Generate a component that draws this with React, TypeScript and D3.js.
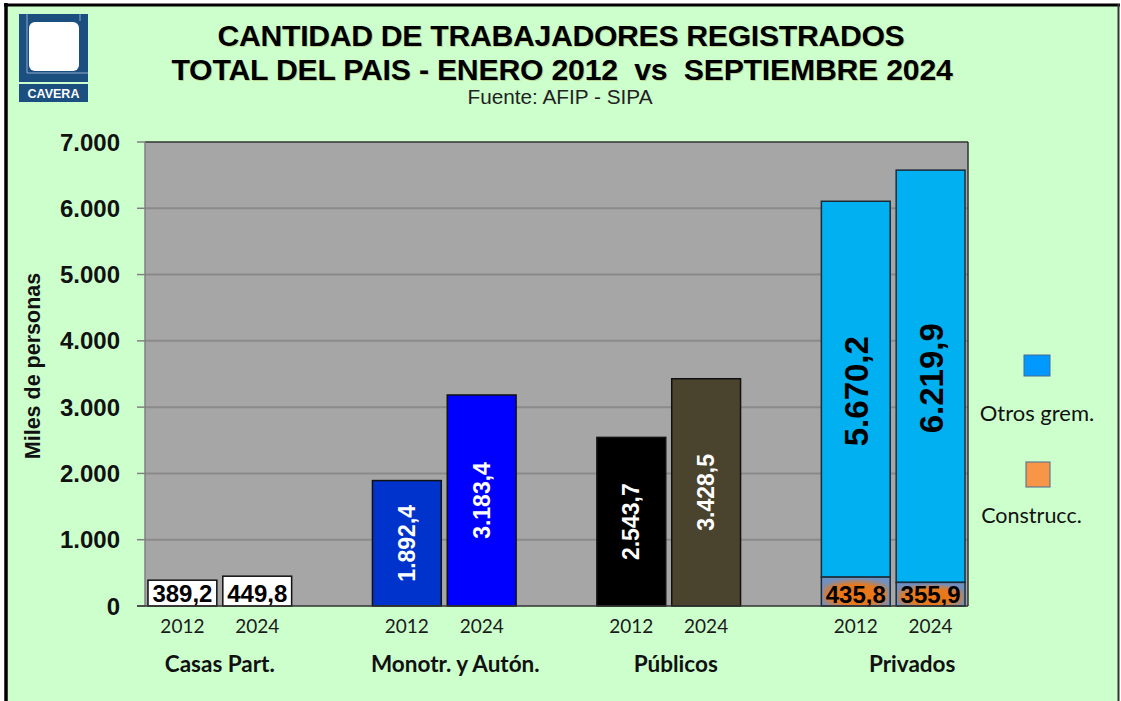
import React from 'react';
import * as d3 from 'd3';

// values in thousands of persons
const categories = ['Casas Part.', 'Monotr. y Autón.', 'Públicos', 'Privados'];
const years = ['2012', '2024'];
const casasPart = [389.2, 449.8];
const monotributo = [1892.4, 3183.4];
const publicos = [2543.7, 3428.5];
const privadosConstrucc = [435.8, 355.9];
const privadosOtros = [5670.2, 6219.9];
const yTicks = [0, 1000, 2000, 3000, 4000, 5000, 6000, 7000];
const legendLabels = ['Otros grem.', 'Construcc.'];

const W = 1121;
const H = 701;
const plot = { left: 145, right: 968, top: 142, bottom: 606 };

const locale = d3.formatLocale({ decimal: ',', thousands: '.', grouping: [3], currency: ['$', ''] });
const fmt1 = locale.format(',.1f');
const fmt0 = locale.format(',.0f');

const ARIAL = '"Liberation Sans", Arial, sans-serif';
const CALIBRI = 'Lato, "Open Sans", sans-serif';

export default function App() {
  // 11 slots: two bars per category with an empty slot between groups
  const slots: string[] = [];
  categories.forEach((c, i) => {
    years.forEach(y => slots.push(`${c}|${y}`));
    if (i < categories.length - 1) slots.push(`gap${i}`);
  });

  const x = d3.scaleBand<string>()
    .domain(slots)
    .range([plot.left, plot.right])
    .paddingInner(0.08)
    .paddingOuter(0.04);

  const y = d3.scaleLinear().domain([0, 7000]).range([plot.bottom, plot.top]);
  const bw = x.bandwidth();

  const simple = [
    { cat: categories[0], vals: casasPart, fills: ['#FFFFFF', '#FFFFFF'], label: 'box' },
    { cat: categories[1], vals: monotributo, fills: ['#0033CC', '#0000FF'], label: 'white' },
    { cat: categories[2], vals: publicos, fills: ['#000000', '#4A432E'], label: 'white' },
  ];

  const labelShift = [0, 11, 7, 19];
  const titleShadow = { textShadow: '1px 1px 0.5px rgba(140,110,0,0.3)' };

  return (
    <svg width={W} height={H} style={{ position: 'absolute', left: 0, top: 0 }}>
      <defs>
        <radialGradient id="glow" cx="50%" cy="60%" r="65%">
          <stop offset="0%" stopColor="#EE7410" />
          <stop offset="60%" stopColor="#E47A22" />
          <stop offset="100%" stopColor="#7090C0" />
        </radialGradient>
      </defs>
      <rect x={0} y={0} width={W} height={H} fill="#FFFFFF" />
      <rect x={6} y={5} width={1112} height={H} fill="#CCFFCC" />
      <line x1={6} y1={3} x2={6} y2={H} stroke="#000" strokeWidth={3.5} />
      <line x1={4} y1={5} x2={1120} y2={5} stroke="#000" strokeWidth={3} />
      <line x1={1118.5} y1={4} x2={1118.5} y2={H} stroke="#333" strokeWidth={2} />

      {/* logo */}
      <g>
        <rect x={19} y={14} width={69} height={68} fill="#1B4F80" />
        <rect x={29} y={22} width={50} height={49} rx={6} fill="#FFFFFF" />
        <line x1={27} y1={14} x2={27} y2={73} stroke="#8FAACB" strokeWidth={1} />
        <line x1={27} y1={73} x2={88} y2={73} stroke="#8FAACB" strokeWidth={1} />
        <line x1={80} y1={14} x2={80} y2={21} stroke="#8FAACB" strokeWidth={1} />
        <rect x={19} y={84} width={69} height={18} fill="#1B4F80" />
        <text x={53.5} y={98} textAnchor="middle" fill="#FFFFFF" fontFamily={ARIAL}
          fontWeight="bold" fontSize={12.5}>CAVERA</text>
      </g>

      {/* titles */}
      <g fontFamily={ARIAL} fontWeight="bold" fill="#000" textAnchor="middle">
        <text x={561} y={46} fontSize={30.2} letterSpacing={-0.3} style={titleShadow}>
          CANTIDAD DE TRABAJADORES REGISTRADOS
        </text>
        <text x={562} y={80} fontSize={30.2} letterSpacing={-0.2} style={titleShadow}>
          TOTAL DEL PAIS - ENERO 2012{'\u00A0'} vs{'\u00A0'} SEPTIEMBRE 2024
        </text>
      </g>
      <text x={560} y={104} textAnchor="middle" fontFamily={ARIAL} fontSize={20.5} fill="#222"
        textLength={185} lengthAdjust="spacingAndGlyphs">
        Fuente: AFIP - SIPA
      </text>

      {/* plot area */}
      <rect x={plot.left} y={plot.top} width={plot.right - plot.left} height={plot.bottom - plot.top}
        fill="#A6A6A6" />
      {yTicks.map(t => (
        <g key={t}>
          {t > 0 && (
            <line x1={plot.left} x2={plot.right} y1={y(t)} y2={y(t)}
              stroke={t === 7000 ? '#333' : '#8A8A8A'} strokeWidth={t === 7000 ? 1.5 : 2} />
          )}
          <line x1={plot.left - 8} x2={plot.left} y1={y(t)} y2={y(t)} stroke="#808080" strokeWidth={1.5} />
          <text x={120} y={y(t) + 8.5} textAnchor="end" fontFamily={ARIAL} fontWeight="bold"
            fontSize={24} fill="#111">{fmt0(t)}</text>
        </g>
      ))}
      <line x1={plot.left} x2={plot.left} y1={plot.top} y2={plot.bottom} stroke="#808080" strokeWidth={1.5} />
      <line x1={plot.right} x2={plot.right} y1={plot.top} y2={plot.bottom} stroke="#333" strokeWidth={1.5} />

      <text transform={`translate(40,${(plot.top + plot.bottom) / 2 - 8}) rotate(-90)`} textAnchor="middle"
        fontFamily={ARIAL} fontWeight="bold" fontSize={21.5} fill="#111">Miles de personas</text>

      {/* simple bars */}
      {simple.map(s => s.vals.map((v, i) => {
        const bx = x(`${s.cat}|${years[i]}`)!;
        const top = y(v);
        const cx = bx + bw / 2;
        const cy = (top + plot.bottom) / 2;
        return (
          <g key={`${s.cat}${i}`}>
            <rect x={bx} y={top} width={bw} height={plot.bottom - top} fill={s.fills[i]}
              stroke="#111" strokeWidth={1.5} />
            {s.label === 'box' ? (
              <text x={cx} y={plot.bottom - 4} textAnchor="middle" fontFamily={ARIAL} fontWeight="bold"
                fontSize={24} fill="#000">{fmt1(v)}</text>
            ) : (
              <text transform={`translate(${cx + 8},${cy}) rotate(-90)`} textAnchor="middle"
                fontFamily={ARIAL} fontWeight="bold" fontSize={23} fill="#FFFFFF">{fmt1(v)}</text>
            )}
          </g>
        );
      }))}

      {/* stacked privados */}
      {years.map((yr, i) => {
        const bx = x(`${categories[3]}|${yr}`)!;
        const c = privadosConstrucc[i];
        const o = privadosOtros[i];
        const cTop = y(c);
        const oTop = y(c + o);
        const cx = bx + bw / 2;
        return (
          <g key={yr}>
            <rect x={bx} y={oTop} width={bw} height={cTop - oTop} fill="#00B0F0" stroke="#1B2B38" strokeWidth={1.5} />
            <rect x={bx} y={cTop} width={bw} height={plot.bottom - cTop} fill="#7090C0" stroke="#1B2B38" strokeWidth={1.5} />
            <rect x={bx + 2} y={cTop + 2} width={bw - 4} height={plot.bottom - cTop - 3} fill="url(#glow)" />
            <text transform={`translate(${cx + 12},${(oTop + cTop) / 2 + 2}) rotate(-90)`} textAnchor="middle"
              fontFamily={ARIAL} fontWeight="bold" fontSize={33} fill="#000">{fmt1(o)}</text>
            <text x={cx} y={plot.bottom - 3} textAnchor="middle" fontFamily={ARIAL} fontWeight="bold"
              fontSize={24} fill="#000">{fmt1(c)}</text>
          </g>
        );
      })}

      <line x1={plot.left - 8} x2={plot.right} y1={plot.bottom} y2={plot.bottom} stroke="#333" strokeWidth={1.5} />

      {/* x labels */}
      {categories.map((c, ci) => (
        <g key={c}>
          {years.map(yr => (
            <text key={yr} x={x(`${c}|${yr}`)! + bw / 2} y={633} textAnchor="middle" fontFamily={CALIBRI}
              fontSize={19} fill="#1a1a1a">{yr}</text>
          ))}
          <text x={(x(`${c}|${years[0]}`)! + x(`${c}|${years[1]}`)! + bw) / 2 + labelShift[ci]} y={672}
            textAnchor="middle" fontFamily={CALIBRI} fontWeight="bold" fontSize={22.5} fill="#111">{c}</text>
        </g>
      ))}

      {/* legend */}
      <g fontFamily={CALIBRI} fill="#111">
        <rect x={1024} y={355} width={26} height={21} fill="#0099FF" stroke="#4A6A90" strokeWidth={1} />
        <text x={1037} y={421} textAnchor="middle" fontSize={22}>{legendLabels[0]}</text>
        <rect x={1026} y={462} width={24} height={25} fill="#F79646" stroke="#4A6A90" strokeWidth={1} />
        <text x={1031.5} y={523} textAnchor="middle" fontSize={21.5}>{legendLabels[1]}</text>
      </g>
    </svg>
  );
}
